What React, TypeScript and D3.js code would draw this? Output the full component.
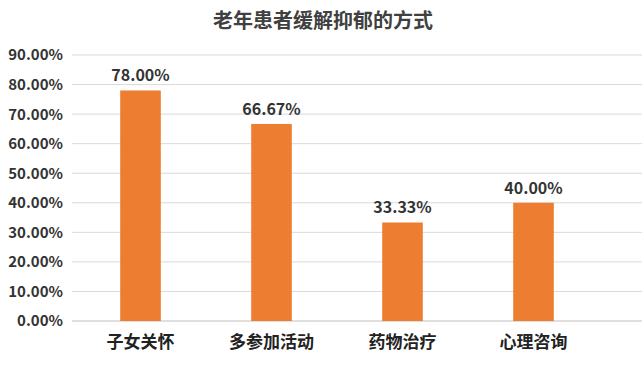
import React from 'react';
import * as d3 from 'd3';

const categories = ['子女关怀', '多参加活动', '药物治疗', '心理咨询'];
const values = [78.0, 66.67, 33.33, 40.0];
const yTicks = [0, 10, 20, 30, 40, 50, 60, 70, 80, 90];
const title = '老年患者缓解抑郁的方式';

const W = 642;
const H = 367;
const margin = { top: 55, right: 43, bottom: 46, left: 75 };
const font = '"Noto Sans CJK SC", "Open Sans", sans-serif';

const App = () => {
  const x = d3.scaleBand()
    .domain(categories)
    .range([margin.left, W - margin.right])
    .paddingInner(0.69)
    .paddingOuter(0.345);

  const y = d3.scaleLinear()
    .domain([0, 90])
    .range([H - margin.bottom, margin.top]);

  return (
    <svg width={W} height={H} style={{ position: 'absolute', left: 0, top: 0, background: '#fff' }}>
      <text x={W / 2 + 2} y={28} textAnchor="middle" fontFamily={font} fontWeight="bold" fontSize={20} fill="#404040">
        {title}
      </text>

      {/* gridlines */}
      {yTicks.map(t => (
        <g key={t}>
          <line x1={72} x2={W} y1={y(t)} y2={y(t)} stroke={t === 0 ? '#bfbfbf' : '#d9d9d9'} strokeWidth={1} />
          <text x={63} y={y(t)} dy="0.36em" textAnchor="end" fontFamily={font} fontSize={15} fontWeight={600} fill="#333">
            {d3.format('.2f')(t)}%
          </text>
        </g>
      ))}

      {/* bars */}
      {categories.map((c, i) => (
        <g key={c}>
          <rect x={x(c)} y={y(values[i])} width={x.bandwidth()} height={y(0) - y(values[i])} fill="#ED7D31" />
          <text x={x(c)! + x.bandwidth() / 2} y={y(values[i]) - 9} textAnchor="middle" fontFamily={font} fontSize={16} fontWeight={600} fill="#333">
            {d3.format('.2f')(values[i])}%
          </text>
          <text x={x(c)! + x.bandwidth() / 2} y={H - 19} textAnchor="middle" fontFamily={font} fontSize={17} fontWeight="bold" fill="#222">
            {c}
          </text>
        </g>
      ))}
    </svg>
  );
};

export default App;
